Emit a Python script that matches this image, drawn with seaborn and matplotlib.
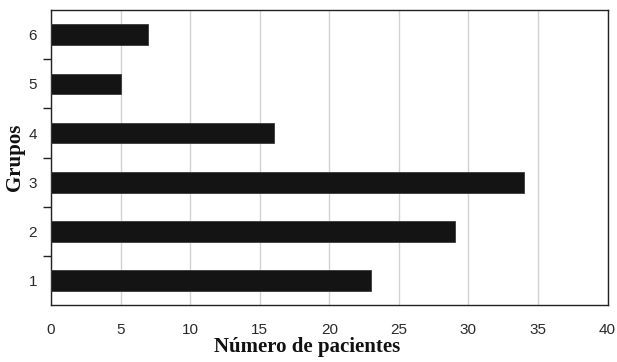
import matplotlib
matplotlib.use("Agg")
import matplotlib.pyplot as plt
import seaborn as sns
import pandas as pd
from matplotlib.ticker import FixedLocator

groups = [1, 2, 3, 4, 5, 6]
patients = [23, 29, 34, 16, 5, 7]
x_ticks = [0, 5, 10, 15, 20, 25, 30, 35, 40]

df = pd.DataFrame({"Grupos": groups, "Pacientes": patients})

sns.set_theme(style="white")
plt.rcParams["font.family"] = ["Liberation Sans", "DejaVu Sans"]

fig = plt.figure(figsize=(6.17, 3.62), dpi=100)
ax = fig.add_axes([0.0827, 0.157, 0.902, 0.815])

sns.barplot(data=df, x="Pacientes", y="Grupos", orient="h", native_scale=True,
            width=0.42, color="#141414", edgecolor="#3a3a3a", linewidth=0.6,
            saturation=1, ax=ax, zorder=3)

ax.set_xlim(0, 40)
ax.set_ylim(0.5, 6.5)
ax.set_xticks(x_ticks)
ax.set_xticklabels([str(t) for t in x_ticks])
ax.set_yticks(groups)
ax.set_yticklabels([str(g) for g in groups])
ax.yaxis.set_minor_locator(FixedLocator([1.5, 2.5, 3.5, 4.5, 5.5]))

ax.grid(axis="x", color="#d2d2d2", linewidth=1.0, zorder=0)
ax.set_axisbelow(True)

for s in ax.spines.values():
    s.set_color("#222222")
    s.set_linewidth(1.0)

ax.tick_params(axis="x", which="major", direction="out", length=6, width=1,
               color="#222222", labelsize=11, labelcolor="#2a2a2a", pad=7)
ax.tick_params(axis="y", which="major", length=0, labelsize=11,
               labelcolor="#2a2a2a", pad=10)
ax.tick_params(axis="y", which="minor", direction="out", length=6, width=1,
               color="#222222", left=True)

ax.set_xlabel("Número de pacientes", fontsize=15, fontweight="bold",
              family=["Liberation Serif"], color="#111111")
ax.xaxis.set_label_coords(0.46, -0.108)
ax.set_ylabel("Grupos", fontsize=15, fontweight="bold",
              family=["Liberation Serif"], color="#111111")
ax.yaxis.set_label_coords(-0.046, 0.5)

fig.savefig("out.png", dpi=100)
